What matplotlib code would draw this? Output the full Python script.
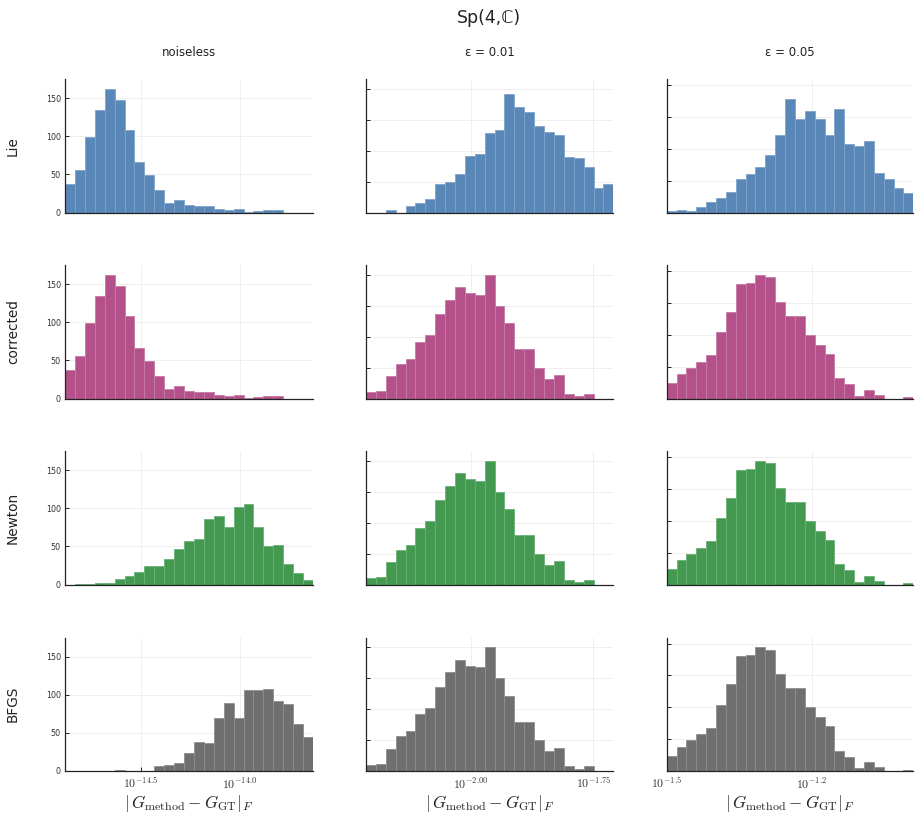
import numpy as np
import matplotlib
matplotlib.use("Agg")
import matplotlib.pyplot as plt
from matplotlib.ticker import FixedLocator, NullLocator, FixedFormatter, NullFormatter

plt.rcParams['mathtext.fontset'] = 'cm'
plt.rcParams['font.family'] = ['DejaVu Sans']

# ---------------- data ----------------
title = "Sp(4,ℂ)"
methods = ["Lie", "corrected", "Newton", "BFGS"]
noise_levels = ["noiseless", "ε = 0.01", "ε = 0.05"]

# log10 extent of the histogram bins, per column (25 bins each)
log_range_noiseless = (-14.881, -13.632)
log_range_eps001 = (-2.2146, -1.709)
log_range_eps005 = (-1.5, -0.99)

xticks_noiseless = [-14.5, -14.0]
xticklabels_noiseless = [r"$10^{-14.5}$", r"$10^{-14.0}$"]
xticks_eps001 = [-2.0, -1.75]
xticklabels_eps001 = [r"$10^{-2.00}$", r"$10^{-1.75}$"]
xticks_eps005 = [-1.5, -1.2]
xticklabels_eps005 = [r"$10^{-1.5}$", r"$10^{-1.2}$"]

yticks_noiseless = [0, 50, 100, 150]
yticks_eps = [0, 25, 50, 75, 100]

# counts per bin
lie_noiseless = [37, 56, 99, 134, 162, 148, 108, 66, 49, 29, 13, 17, 10, 8, 8, 5, 3, 5, 1, 2, 3, 3, 0, 0, 0]
corrected_noiseless = [37, 56, 99, 134, 162, 148, 108, 66, 49, 29, 13, 17, 10, 8, 8, 5, 3, 5, 1, 2, 3, 3, 0, 0, 0]
newton_noiseless = [0, 1, 1, 2, 2, 7, 11, 17, 24, 24, 34, 46, 57, 59, 86, 90, 76, 101, 105, 75, 50, 52, 27, 15, 6]
bfgs_noiseless = [0, 0, 0, 0, 0, 1, 0, 0, 0, 7, 8, 11, 23, 38, 37, 70, 89, 70, 106, 106, 108, 92, 88, 61, 45]

lie_eps001 = [0, 0, 2, 0, 5, 8, 11, 23, 25, 31, 46, 47, 64, 67, 96, 85, 81, 70, 65, 63, 45, 44, 37, 20, 23]
corrected_eps001 = [5, 6, 18, 28, 32, 46, 51, 68, 80, 90, 85, 84, 100, 75, 61, 40, 40, 25, 16, 19, 4, 2, 4, 0, 0]
newton_eps001 = [5, 6, 18, 28, 32, 46, 51, 68, 80, 90, 85, 84, 100, 75, 61, 40, 40, 25, 16, 19, 4, 2, 4, 0, 0]
bfgs_eps001 = [5, 6, 18, 28, 32, 46, 51, 68, 80, 90, 85, 84, 100, 75, 61, 40, 40, 25, 16, 19, 4, 2, 4, 0, 0]

lie_eps005 = [1, 2, 1, 4, 8, 11, 16, 26, 30, 36, 45, 61, 89, 73, 80, 73, 61, 81, 54, 52, 56, 31, 26, 19, 15]
corrected_eps005 = [12, 19, 24, 29, 34, 52, 68, 90, 91, 97, 95, 76, 65, 65, 50, 42, 35, 16, 11, 2, 7, 3, 0, 0, 1]
newton_eps005 = [12, 19, 24, 29, 34, 52, 68, 90, 91, 97, 95, 76, 65, 65, 50, 42, 35, 16, 11, 2, 7, 3, 0, 0, 1]
bfgs_eps005 = [12, 19, 24, 29, 34, 52, 68, 90, 91, 97, 95, 76, 65, 65, 50, 42, 35, 16, 11, 2, 7, 3, 0, 0, 1]

# ---------------- style ----------------
colors = ["#5887b8", "#b4518b", "#42994f", "#6f6f6f"]
edge_colors = ["#7fa3c9", "#c77aa6", "#6cb178", "#8f8f8f"]

columns = [
    dict(rng=log_range_noiseless, ticks=xticks_noiseless, labels=xticklabels_noiseless,
         yticks=yticks_noiseless, counts=[lie_noiseless, corrected_noiseless, newton_noiseless, bfgs_noiseless]),
    dict(rng=log_range_eps001, ticks=xticks_eps001, labels=xticklabels_eps001,
         yticks=yticks_eps, counts=[lie_eps001, corrected_eps001, newton_eps001, bfgs_eps001]),
    dict(rng=log_range_eps005, ticks=xticks_eps005, labels=xticklabels_eps005,
         yticks=yticks_eps, counts=[lie_eps005, corrected_eps005, newton_eps005, bfgs_eps005]),
]

W, H = 921, 824
fig = plt.figure(figsize=(W / 100, H / 100), dpi=100)

col_left = [65, 366, 666.7]
col_width = [248, 247.3, 246.6]
row_top = [79, 265, 451, 637.5]
row_h = 133.5

for c, col in enumerate(columns):
    lo, hi = col["rng"]
    nb = len(col["counts"][0])
    edges = 10 ** np.linspace(lo, hi, nb + 1)
    ymax = max(max(v) for v in col["counts"]) * 1.08
    for r in range(4):
        ax = fig.add_axes([col_left[c] / W, 1 - (row_top[r] + row_h) / H,
                           col_width[c] / W, row_h / H])
        ax.bar(edges[:-1], col["counts"][r], width=np.diff(edges), align="edge",
               color=colors[r], edgecolor=edge_colors[r], linewidth=0.6, zorder=2)
        ax.set_xscale("log")
        ax.set_xlim(edges[0], edges[-1])
        ax.set_ylim(0, ymax)
        ax.xaxis.set_major_locator(FixedLocator([10 ** t for t in col["ticks"]]))
        ax.xaxis.set_minor_locator(NullLocator())
        if r == 3:
            ax.xaxis.set_major_formatter(FixedFormatter(col["labels"]))
        else:
            ax.xaxis.set_major_formatter(NullFormatter())
        ax.xaxis.set_minor_formatter(NullFormatter())
        ax.yaxis.set_major_locator(FixedLocator(col["yticks"]))
        if c != 0:
            ax.yaxis.set_major_formatter(NullFormatter())
        ax.grid(True, color="#ececec", linewidth=0.6, zorder=0)
        ax.set_axisbelow(True)
        for s in ["top", "right"]:
            ax.spines[s].set_visible(False)
        for s in ["left", "bottom"]:
            ax.spines[s].set_color("#222222")
            ax.spines[s].set_linewidth(0.9)
            ax.spines[s].set_zorder(3)
        ax.tick_params(axis="both", direction="in", length=3, width=0.7, color="#222222")
        ax.tick_params(axis="y", labelsize=5.8, labelcolor="#333333", pad=3)
        ax.tick_params(axis="x", labelsize=8.6, labelcolor="#333333", pad=4)
        if r == 3:
            ax.set_xlabel(r"$|\,G_{\mathrm{method}} - G_{\mathrm{GT}}|_{F}$", fontsize=12.3,
                          color="#222222", labelpad=1)
        if c == 0:
            fig.text(13 / W, 1 - (row_top[r] + row_h / 2) / H, methods[r], rotation=90,
                     ha="center", va="center", fontsize=9.8, color="#222222")
        if r == 0:
            fig.text((col_left[c] + col_width[c] / 2) / W, 1 - 53 / H, noise_levels[c],
                     ha="center", va="center", fontsize=8.5, color="#222222")

fig.text(489 / W, 1 - 18 / H, title, ha="center", va="center", fontsize=12.5, color="#222222")

fig.savefig("out.png", dpi=100, facecolor="white")
